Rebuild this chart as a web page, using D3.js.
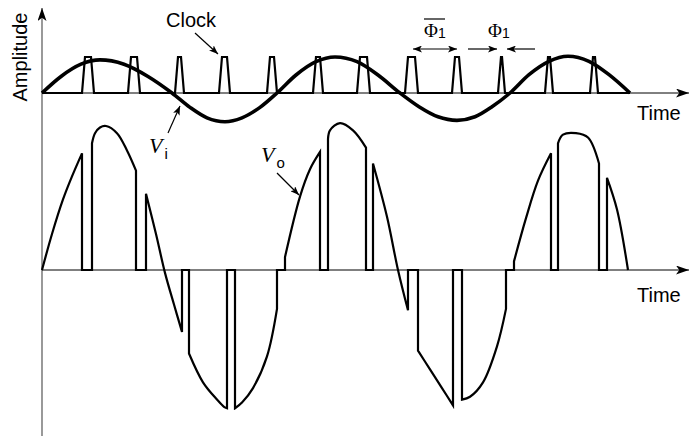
<!DOCTYPE html>
<html>
<head>
<meta charset="utf-8">
<script src="https://cdn.jsdelivr.net/npm/d3@7"></script>
<style>
  body { margin: 0; background: #fff; }
  text { font-family: "Liberation Sans", Arial, sans-serif; }
</style>
</head>
<body>
<script>
// input sine V_i : [time, amplitude]
var viPoints = [[0,0],[19,0.46],[39,0.80],[58,0.92],[82,0.80],[106,0.46],[130,0],
  [148,-0.40],[165,-0.69],[183,-0.80],[200,-0.69],[218,-0.40],[235,0],
  [254,0.50],[274,0.87],[293,1.0],[315,0.87],[336,0.50],[358,0],
  [377,-0.38],[396,-0.66],[415,-0.76],[433,-0.66],[450,-0.38],[468,0],
  [487,0.51],[507,0.88],[526,1.02],[547,0.88],[567,0.51],[588,0]];

// clock pulses (start / end time), high level = 1
var clockStart = [40, 86, 133, 177, 225, 271, 315, 363, 410, 456, 503, 548];
var clockEnd   = [52, 98, 142, 188, 235, 281, 328, 376, 420, 463, 511, 556];
var clockStop = 588;

// output V_o : pieces between the clock pulses, held at zero during a pulse
var voSegments = [
  [[0,0],[10,0.25],[21,0.49],[30,0.65],[40,0.81]],
  [[50,0.88],[53,0.95],[58,0.99],[64,1.0],[75,0.95],[85,0.83],[94,0.69]],
  [[104,0.53],[114,0.25],[123,-0.02],[132,-0.24],[140,-0.43]],
  [[147,-0.58],[161,-0.78],[175,-0.90],[182,-0.95],[185,-0.96]],
  [[193,-0.96],[200,-0.92],[211,-0.82],[225,-0.60],[235,-0.27]],
  [[243,0.09],[258,0.51],[268,0.70],[278,0.82]],
  [[286,0.91],[288,0.97],[298,1.02],[311,0.97],[324,0.85]],
  [[331,0.74],[345,0.37],[356,0],[366,-0.28]],
  [[376,-0.56],[388,-0.69],[400,-0.82],[411,-0.94]],
  [[420,-0.90],[428,-0.88],[441,-0.78],[455,-0.53],[464,-0.27]],
  [[472,0.06],[484,0.36],[496,0.62],[509,0.81]],
  [[516,0.88],[521,0.94],[534,0.95],[546,0.92],[557,0.74]],
  [[565,0.64],[575,0.42],[586,0]]
];

var W = 697, H = 436;

var svg = d3.select("body").append("svg")
    .attr("width", W)
    .attr("height", H);

var x = d3.scaleLinear().domain([0, 647]).range([42, 689]);
var yTop = d3.scaleLinear().domain([-1, 1]).range([129, 57]);
var yBot = d3.scaleLinear().domain([-1, 1]).range([414, 126]);

var defs = svg.append("defs");
function marker(id, len, half) {
  defs.append("marker")
      .attr("id", id)
      .attr("markerUnits", "userSpaceOnUse")
      .attr("markerWidth", len)
      .attr("markerHeight", half * 2)
      .attr("refX", len)
      .attr("refY", half)
      .attr("orient", "auto-start-reverse")
    .append("path")
      .attr("d", "M0,0L" + len + "," + half + "L0," + (half * 2) + "L" + (len * 0.25) + "," + half + "Z")
      .attr("fill", "#000");
}
marker("axisArrow", 13, 4.5);
marker("smallArrow", 9, 3.5);

// axes
svg.append("line")
    .attr("x1", x(0)).attr("y1", H)
    .attr("x2", x(0)).attr("y2", 8)
    .attr("stroke", "#808080")
    .attr("stroke-width", 1.6)
    .attr("marker-end", "url(#axisArrow)");

[yTop, yBot].forEach(function(y) {
  svg.append("line")
      .attr("x1", x(0)).attr("y1", y(0))
      .attr("x2", x(647)).attr("y2", y(0))
      .attr("stroke", "#000")
      .attr("stroke-width", 1)
      .attr("marker-end", "url(#axisArrow)");
});

// clock
var clockPts = [[0, 0]];
clockStart.forEach(function(s, i) {
  var e = clockEnd[i];
  clockPts.push([s, 0], [s + 3, 1], [e - 3, 1], [e, 0]);
});
clockPts.push([clockStop, 0]);

svg.append("path")
    .attr("d", d3.line().x(function(d) { return x(d[0]); }).y(function(d) { return yTop(d[1]); })(clockPts))
    .attr("fill", "none")
    .attr("stroke", "#000")
    .attr("stroke-width", 2.2)
    .attr("stroke-linejoin", "miter");

// input sine
svg.append("path")
    .attr("d", d3.line()
        .x(function(d) { return x(d[0]); })
        .y(function(d) { return yTop(d[1]); })
        .curve(d3.curveMonotoneX)(viPoints))
    .attr("fill", "none")
    .attr("stroke", "#000")
    .attr("stroke-width", 3.6);

// output, one path: curved pieces joined through the zero level
var seg = d3.line()
    .x(function(d) { return x(d[0]); })
    .y(function(d) { return yBot(d[1]); })
    .curve(d3.curveCatmullRom.alpha(0.5));
var voD = "";
voSegments.forEach(function(s, i) {
  var p = seg(s);
  if (i === 0) { voD = p; return; }
  var prev = voSegments[i - 1];
  var last = prev[prev.length - 1];
  voD += "L" + x(last[0]) + "," + yBot(0) +
         "L" + x(s[0][0]) + "," + yBot(0) +
         "L" + p.slice(1);
});
svg.append("path")
    .attr("d", voD)
    .attr("fill", "none")
    .attr("stroke", "#000")
    .attr("stroke-width", 2.2)
    .attr("stroke-linejoin", "miter");

// labels
svg.append("text")
    .attr("transform", "translate(27,57) rotate(-90)")
    .attr("text-anchor", "middle")
    .style("font-size", "20px")
    .text("Amplitude");

svg.append("text").attr("x", 637).attr("y", 120).style("font-size", "20px").text("Time");
svg.append("text").attr("x", 637).attr("y", 302).style("font-size", "20px").text("Time");
svg.append("text").attr("x", 166).attr("y", 27).style("font-size", "20px").text("Clock");

function pointer(x1, y1, x2, y2) {
  svg.append("line")
      .attr("x1", x1).attr("y1", y1)
      .attr("x2", x2).attr("y2", y2)
      .attr("stroke", "#000")
      .attr("stroke-width", 1.2)
      .attr("marker-end", "url(#smallArrow)");
}
pointer(195, 33, 218, 54);
pointer(168, 133, 180, 106);
pointer(277, 173, 299, 195);

function vLabel(xp, yp, sub) {
  var t = svg.append("text").attr("x", xp).attr("y", yp);
  t.append("tspan")
      .style("font-family", "'Liberation Serif', 'Times New Roman', serif")
      .style("font-style", "italic")
      .style("font-size", "22px")
      .text("V");
  t.append("tspan")
      .attr("dx", 2)
      .attr("dy", 6)
      .style("font-size", "15px")
      .text(sub);
}
vLabel(149, 153, "i");
vLabel(261, 162, "o");

function phiLabel(xp, yp, bar) {
  var t = svg.append("text").attr("x", xp).attr("y", yp);
  t.append("tspan")
      .style("font-family", "'Liberation Serif', 'Times New Roman', serif")
      .style("font-size", "19px")
      .text("\u03A6");
  t.append("tspan")
      .attr("dy", 1)
      .style("font-size", "14px")
      .text("1");
  if (bar) {
    svg.append("line")
        .attr("x1", xp).attr("x2", xp + 21)
        .attr("y1", yp - 18).attr("y2", yp - 18)
        .attr("stroke", "#000")
        .attr("stroke-width", 1.2);
  }
}
phiLabel(424, 37, true);
phiLabel(488, 37, false);

// phase width arrows
svg.append("line")
    .attr("x1", 413).attr("y1", 49).attr("x2", 457).attr("y2", 49)
    .attr("stroke", "#000").attr("stroke-width", 1.2)
    .attr("marker-start", "url(#smallArrow)")
    .attr("marker-end", "url(#smallArrow)");
pointer(468, 49, 497, 49);
pointer(535, 49, 507, 49);
</script>
</body>
</html>
